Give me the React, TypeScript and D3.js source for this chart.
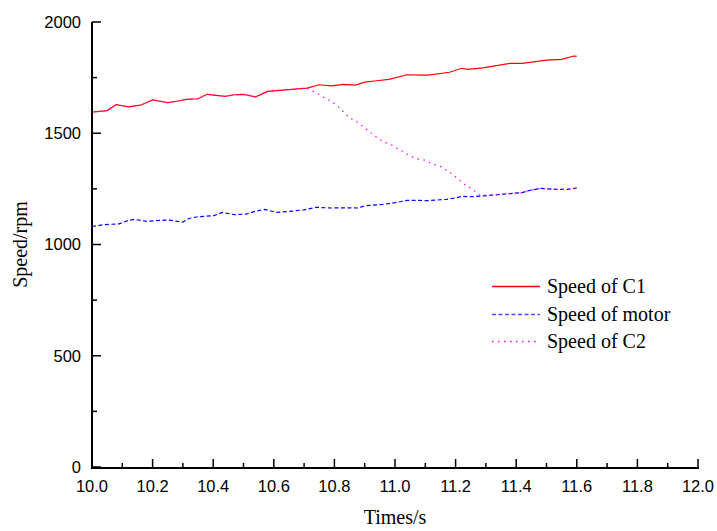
import React from "react";
import * as d3 from "d3";

const WIDTH = 717;
const HEIGHT = 531;

const c1Time = [
  10.0, 10.05, 10.08, 10.12, 10.16, 10.2, 10.25, 10.29, 10.31, 10.35, 10.38,
  10.44, 10.47, 10.5, 10.54, 10.58, 10.63, 10.71, 10.75, 10.79, 10.83, 10.87,
  10.9, 10.94, 10.98, 11.04, 11.09, 11.11, 11.18, 11.22, 11.24, 11.29, 11.38,
  11.42, 11.5, 11.55, 11.59, 11.6,
];
const c1Speed = [
  1595, 1602, 1629, 1619, 1626, 1650, 1638, 1646, 1652, 1655, 1675, 1666, 1673,
  1675, 1664, 1688, 1694, 1703, 1718, 1713, 1720, 1716, 1730, 1736, 1742, 1763,
  1761, 1761, 1774, 1792, 1787, 1794, 1814, 1814, 1829, 1832, 1847, 1846,
];

const motorTime = [
  10.0, 10.04, 10.09, 10.12, 10.14, 10.18, 10.21, 10.25, 10.3, 10.32, 10.35,
  10.4, 10.43, 10.47, 10.51, 10.54, 10.57, 10.61, 10.66, 10.7, 10.74, 10.79,
  10.83, 10.88, 10.9, 10.96, 11.0, 11.04, 11.08, 11.11, 11.17, 11.2, 11.22,
  11.26, 11.32, 11.38, 11.42, 11.44, 11.48, 11.53, 11.57, 11.6,
];
const motorSpeed = [
  1081, 1089, 1093, 1108, 1113, 1104, 1107, 1110, 1101, 1117, 1125, 1129, 1144,
  1134, 1137, 1150, 1158, 1144, 1150, 1156, 1167, 1164, 1165, 1164, 1174, 1180,
  1188, 1198, 1198, 1197, 1203, 1209, 1216, 1215, 1222, 1229, 1233, 1242, 1252,
  1248, 1248, 1254,
];

const c2Time = [
  10.0, 10.05, 10.08, 10.12, 10.16, 10.2, 10.25, 10.29, 10.31, 10.35, 10.38,
  10.44, 10.47, 10.5, 10.54, 10.58, 10.63, 10.71, 10.72, 10.74, 10.76, 10.79,
  10.81, 10.83, 10.85, 10.88, 10.9, 10.92, 10.94, 10.96, 10.99, 11.01, 11.03,
  11.05, 11.08, 11.1, 11.12, 11.15, 11.17, 11.19, 11.21, 11.23, 11.26, 11.28,
  11.32, 11.38, 11.42, 11.44, 11.48, 11.53, 11.57, 11.6,
];
const c2Speed = [
  1595, 1602, 1629, 1619, 1626, 1650, 1638, 1646, 1652, 1655, 1675, 1666, 1673,
  1675, 1664, 1688, 1694, 1703, 1694, 1683, 1664, 1644, 1622, 1596, 1569, 1547,
  1523, 1502, 1481, 1463, 1446, 1429, 1415, 1397, 1382, 1379, 1364, 1351, 1333,
  1315, 1293, 1270, 1243, 1222, 1222, 1229, 1233, 1242, 1252, 1248, 1248, 1254,
];

const xTicks = [10.0, 10.2, 10.4, 10.6, 10.8, 11.0, 11.2, 11.4, 11.6, 11.8, 12.0];
const xMinor = [10.1, 10.3, 10.5, 10.7, 10.9, 11.1, 11.3, 11.5, 11.7, 11.9];
const yTicks = [0, 500, 1000, 1500, 2000];
const yMinor = [250, 750, 1250, 1750];

const legendLabels = ["Speed of C1", "Speed of motor", "Speed of C2"];

const SANS = "'Liberation Sans', Arial, sans-serif";
const SERIF = "'Liberation Serif', 'Times New Roman', serif";

export default function App() {
  const x = d3.scaleLinear().domain([10, 12]).range([92, 698]);
  const y = d3.scaleLinear().domain([0, 2000]).range([467, 22]);

  const makeLine = (ts: number[], vs: number[]) =>
    d3
      .line<number>()
      .x((_, i) => x(ts[i]))
      .y((v) => y(v))(vs) || "";

  const series = [
    { d: makeLine(c1Time, c1Speed), color: "#ff0000", dash: undefined },
    { d: makeLine(motorTime, motorSpeed), color: "#0000ff", dash: "4,2.5" },
    { d: makeLine(c2Time, c2Speed), color: "#ff00ff", dash: "1.5,4.5" },
  ];

  const y0 = y(0) + 1;
  const x0 = x(10);

  return (
    <div style={{ position: "absolute", left: 0, top: 0 }}>
      <svg width={WIDTH} height={HEIGHT} style={{ display: "block", background: "#fff" }}>
        {series.map((s, i) => (
          <path
            key={i}
            d={s.d}
            fill="none"
            stroke={s.color}
            strokeWidth={1.2}
            strokeDasharray={s.dash}
          />
        ))}

        {/* axes */}
        <line x1={x0} y1={y(2000)} x2={x0} y2={y0} stroke="#000" strokeWidth={2} />
        <line x1={x0 - 1} y1={y0} x2={x(12) + 1} y2={y0} stroke="#000" strokeWidth={2} />

        {xTicks.map((t) => (
          <g key={t}>
            <line x1={x(t)} x2={x(t)} y1={y0} y2={y0 - 9} stroke="#000" strokeWidth={1.5} />
            <text
              x={x(t)}
              y={492}
              textAnchor="middle"
              fontFamily={SANS}
              fontSize={16.5}
              fill="#000"
            >
              {t.toFixed(1)}
            </text>
          </g>
        ))}
        {xMinor.map((t) => (
          <line key={t} x1={x(t)} x2={x(t)} y1={y0} y2={y0 - 5} stroke="#000" strokeWidth={1.5} />
        ))}

        {yTicks.map((v) => (
          <g key={v}>
            <line x1={x0} x2={x0 + 9} y1={y(v)} y2={y(v)} stroke="#000" strokeWidth={1.5} />
            <text
              x={81}
              y={y(v)}
              dy="0.36em"
              textAnchor="end"
              fontFamily={SANS}
              fontSize={16.5}
              fill="#000"
            >
              {v}
            </text>
          </g>
        ))}
        {yMinor.map((v) => (
          <line key={v} x1={x0} x2={x0 + 5} y1={y(v)} y2={y(v)} stroke="#000" strokeWidth={1.5} />
        ))}

        <text
          x={(x(10) + x(12)) / 2}
          y={524}
          textAnchor="middle"
          fontFamily={SERIF}
          fontSize={20}
          fill="#000"
        >
          Times/s
        </text>
        <text
          transform={`translate(27, ${(y(0) + y(2000)) / 2}) rotate(-90)`}
          textAnchor="middle"
          fontFamily={SERIF}
          fontSize={20}
          fill="#000"
        >
          Speed/rpm
        </text>

        {/* legend */}
        {legendLabels.map((label, i) => {
          const ly = Math.round(286 + i * 27.5) + 0.5;
          return (
            <g key={label}>
              <line
                x1={492}
                x2={540}
                y1={ly}
                y2={ly}
                stroke={i === 1 ? "#4d4dff" : series[i].color}
                strokeWidth={1.5}
                strokeDasharray={series[i].dash}
              />
              <text x={547} y={ly + 6.5} fontFamily={SERIF} fontSize={20} fill="#000">
                {label}
              </text>
            </g>
          );
        })}
      </svg>
    </div>
  );
}
